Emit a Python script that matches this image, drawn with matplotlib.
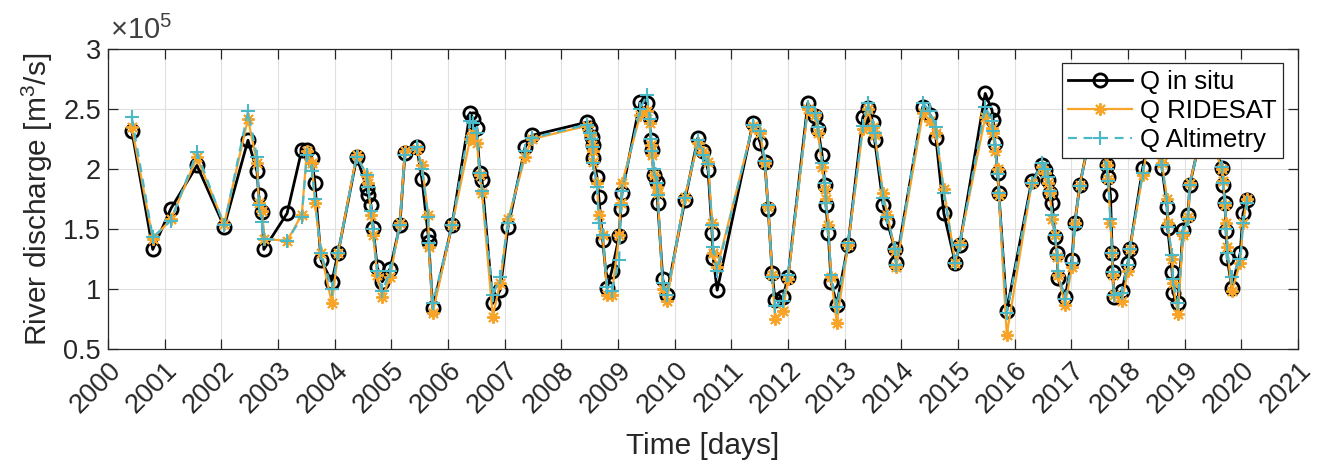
import matplotlib
matplotlib.use("Agg")
import matplotlib.pyplot as plt
from matplotlib.ticker import FuncFormatter, MultipleLocator

plt.rcParams['font.family'] = ['Liberation Sans', 'DejaVu Sans']
plt.rcParams['mathtext.fontset'] = 'custom'
plt.rcParams['mathtext.rm'] = 'Liberation Sans'

# ---------------- data (discharge in units of 1e5 m^3/s) ----------------
t = [2000.42, 2000.79, 2001.11, 2001.57, 2002.05, 2002.47, 2002.63, 2002.66, 2002.72, 2002.75,
     2003.16, 2003.42, 2003.51, 2003.60, 2003.65, 2003.76, 2003.95, 2004.06, 2004.39, 2004.57,
     2004.59, 2004.64, 2004.68, 2004.75, 2004.84, 2004.98, 2005.15, 2005.24, 2005.45, 2005.54,
     2005.65, 2005.66, 2005.73, 2006.07, 2006.39, 2006.44, 2006.51, 2006.56, 2006.60, 2006.79,
     2006.92, 2007.06, 2007.36, 2007.48, 2008.45, 2008.51, 2008.54, 2008.55, 2008.56, 2008.63,
     2008.66, 2008.73, 2008.81, 2008.89, 2009.02, 2009.05, 2009.07, 2009.39, 2009.51, 2009.56,
     2009.58, 2009.60, 2009.63, 2009.69, 2009.70, 2009.79, 2009.86, 2010.18, 2010.41, 2010.50,
     2010.59, 2010.66, 2010.68, 2010.75, 2011.38, 2011.51, 2011.59, 2011.65, 2011.72, 2011.77,
     2011.91, 2012.00, 2012.35, 2012.48, 2012.53, 2012.60, 2012.65, 2012.67, 2012.71, 2012.76,
     2012.86, 2013.06, 2013.32, 2013.41, 2013.50, 2013.53, 2013.68, 2013.75, 2013.89, 2013.91,
     2014.38, 2014.51, 2014.61, 2014.75, 2014.95, 2015.03, 2015.48, 2015.60, 2015.62, 2015.65,
     2015.70, 2015.72, 2015.86, 2016.30, 2016.48, 2016.53, 2016.59, 2016.62, 2016.66, 2016.71,
     2016.75, 2016.76, 2016.89, 2017.01, 2017.06, 2017.15, 2017.40, 2017.63, 2017.65, 2017.69,
     2017.72, 2017.73, 2017.75, 2017.89, 2018.00, 2018.03, 2018.26, 2018.42, 2018.60, 2018.69,
     2018.70, 2018.78, 2018.79, 2018.88, 2018.97, 2019.06, 2019.09, 2019.35, 2019.66, 2019.68,
     2019.71, 2019.73, 2019.75, 2019.83, 2019.98, 2020.03, 2020.10]

q_insitu = [2.32, 1.33, 1.67, 2.03, 1.52, 2.24, 1.98, 1.78, 1.64, 1.33,
            1.63, 2.16, 2.16, 2.09, 1.88, 1.24, 1.06, 1.30, 2.10, 1.84,
            1.78, 1.70, 1.51, 1.18, 1.06, 1.17, 1.53, 2.13, 2.18, 1.92,
            1.45, 1.39, 0.84, 1.53, 2.47, 2.42, 2.34, 1.97, 1.91, 0.88,
            0.99, 1.52, 2.18, 2.28, 2.39, 2.34, 2.27, 2.20, 2.09, 1.93,
            1.77, 1.41, 1.01, 1.15, 1.44, 1.67, 1.80, 2.56, 2.55, 2.43,
            2.24, 2.16, 1.95, 1.89, 1.72, 1.08, 0.95, 1.74, 2.26, 2.15,
            1.99, 1.47, 1.26, 0.99, 2.38, 2.22, 2.06, 1.67, 1.13, 0.91,
            0.93, 1.10, 2.55, 2.44, 2.33, 2.12, 1.87, 1.70, 1.47, 1.06,
            0.87, 1.37, 2.43, 2.51, 2.39, 2.24, 1.70, 1.56, 1.33, 1.22,
            2.52, 2.45, 2.26, 1.63, 1.22, 1.37, 2.63, 2.49, 2.41, 2.22,
            1.97, 1.80, 0.82, 1.90, 2.03, 1.99, 1.91, 1.80, 1.72, 1.43,
            1.30, 1.09, 0.93, 1.24, 1.55, 1.87, 2.45, 2.03, 1.93, 1.78,
            1.30, 1.14, 0.93, 0.98, 1.22, 1.33, 2.01, 2.40, 2.01, 1.68,
            1.51, 1.14, 0.97, 0.88, 1.49, 1.62, 1.87, 2.42, 2.01, 1.87,
            1.72, 1.48, 1.26, 1.01, 1.30, 1.63, 1.74]

q_ridesat = [2.35, 1.42, 1.58, 2.10, 1.54, 2.42, 2.05, 1.72, 1.65, 1.42,
             1.40, 1.62, 2.15, 2.05, 1.72, 1.30, 0.88, 1.30, 2.12, 1.94,
             1.88, 1.62, 1.45, 1.12, 0.93, 1.10, 1.55, 2.15, 2.17, 2.03,
             1.62, 1.35, 0.80, 1.53, 2.25, 2.30, 2.22, 1.95, 1.80, 0.77,
             1.05, 1.58, 2.10, 2.25, 2.36, 2.28, 2.20, 2.15, 2.06, 1.88,
             1.62, 1.45, 0.95, 0.95, 1.45, 1.72, 1.88, 2.45, 2.48, 2.38,
             2.20, 2.12, 1.95, 1.85, 1.80, 1.00, 0.90, 1.77, 2.22, 2.14,
             2.06, 1.55, 1.30, 1.18, 2.36, 2.30, 2.05, 1.68, 1.12, 0.75,
             0.82, 1.08, 2.50, 2.45, 2.30, 2.02, 1.83, 1.75, 1.53, 1.10,
             0.72, 1.37, 2.33, 2.50, 2.35, 2.28, 1.80, 1.62, 1.32, 1.18,
             2.47, 2.40, 2.30, 1.83, 1.22, 1.38, 2.43, 2.34, 2.30, 2.15,
             2.00, 1.78, 0.62, 1.88, 2.02, 1.97, 1.88, 1.80, 1.58, 1.45,
             1.27, 1.12, 0.87, 1.18, 1.55, 1.87, 2.45, 2.03, 1.92, 1.55,
             1.30, 1.12, 0.95, 0.90, 1.15, 1.33, 1.95, 2.40, 2.05, 1.75,
             1.55, 1.25, 1.05, 0.79, 1.45, 1.60, 1.88, 2.40, 2.00, 1.90,
             1.70, 1.55, 1.35, 0.98, 1.22, 1.55, 1.75]

q_altimetry = [2.43, 1.43, 1.57, 2.14, 1.53, 2.48, 2.10, 1.70, 1.56, 1.42,
               1.40, 1.60, 2.12, 1.98, 1.75, 1.30, 1.00, 1.30, 2.10, 1.95,
               1.85, 1.65, 1.50, 1.15, 0.98, 1.15, 1.53, 2.12, 2.18, 2.00,
               1.60, 1.38, 0.88, 1.53, 2.40, 2.38, 2.30, 1.97, 1.82, 0.95,
               1.10, 1.55, 2.15, 2.26, 2.37, 2.30, 2.25, 2.18, 2.05, 1.85,
               1.55, 1.45, 1.02, 0.98, 1.24, 1.70, 1.82, 2.50, 2.62, 2.42,
               2.25, 2.15, 2.00, 1.88, 1.78, 1.05, 0.95, 1.76, 2.24, 2.12,
               2.04, 1.53, 1.35, 1.15, 2.37, 2.32, 2.07, 1.70, 1.10, 0.86,
               0.90, 1.12, 2.52, 2.47, 2.35, 2.05, 1.88, 1.72, 1.50, 1.12,
               0.85, 1.38, 2.36, 2.55, 2.36, 2.30, 1.76, 1.60, 1.33, 1.20,
               2.55, 2.48, 2.35, 1.80, 1.22, 1.37, 2.52, 2.40, 2.32, 2.20,
               1.96, 1.80, 0.80, 1.88, 2.05, 2.00, 1.93, 1.82, 1.62, 1.45,
               1.28, 1.15, 0.92, 1.22, 1.52, 1.86, 2.45, 2.00, 1.90, 1.58,
               1.30, 1.14, 0.95, 0.97, 1.20, 1.33, 1.97, 2.40, 2.03, 1.72,
               1.52, 1.28, 1.08, 0.88, 1.47, 1.58, 1.87, 2.40, 2.02, 1.88,
               1.72, 1.50, 1.30, 1.10, 1.25, 1.55, 1.72]

year_ticks = list(range(2000, 2022))

# ---------------- figure ----------------
fig = plt.figure(figsize=(13.17, 4.65), dpi=100)
ax = fig.add_axes([0.082, 0.2495, 0.9036, 0.645])

orange = '#f7a428'
cyan = '#4bb8c8'
txt = '#262626'

ax.plot(t, q_insitu, color='black', lw=2.0, marker='o', ms=9.5, mfc='none',
        mec='black', mew=2.0, label='Q in situ', zorder=3)
ax.plot(t, q_ridesat, color=orange, lw=1.6, marker=(8, 2, 0), ms=9, mec=orange,
        mew=1.4, label='Q RIDESAT', zorder=4)
ax.plot(t, q_altimetry, color=cyan, lw=1.6, ls=(0, (4, 3)), marker='+', ms=10,
        mec=cyan, mew=1.5, label='Q Altimetry', zorder=5)

ax.set_xlim(2000, 2021)
ax.set_ylim(0.5, 3.0)
ax.set_xticks(year_ticks)
ax.set_xticklabels([str(y) for y in year_ticks], rotation=45, ha='right',
                   rotation_mode='anchor')
ax.yaxis.set_major_locator(MultipleLocator(0.5))
ax.yaxis.set_major_formatter(FuncFormatter(lambda v, p: '%g' % v))

ax.grid(True, color='#e0e0e0', lw=0.8)
ax.set_axisbelow(True)
for s in ax.spines.values():
    s.set_color(txt)
    s.set_linewidth(0.9)
ax.tick_params(direction='in', length=7, width=0.9, colors=txt,
               labelsize=19.5, top=True, right=True, pad=5)
ax.tick_params(axis='x', pad=6)

ax.set_xlabel('Time [days]', fontsize=21.5, color=txt, labelpad=10)
ax.set_ylabel(r'River discharge [m$^\mathregular{3}$/s]', fontsize=21.5,
              color=txt, labelpad=6)
ax.text(0.002, 1.015, r'$\times\mathregular{10^5}$', transform=ax.transAxes,
        fontsize=21, color='#404040', ha='left', va='bottom')

leg = ax.legend(loc='upper right', bbox_to_anchor=(0.9875, 0.953), fontsize=18.5,
                frameon=True, fancybox=False, edgecolor=txt, framealpha=1,
                handlelength=2.5, handletextpad=0.3, borderpad=0.25,
                labelspacing=0.2, borderaxespad=0.0)
leg.get_frame().set_linewidth(0.9)
leg.set_zorder(10)

fig.savefig('out.png', dpi=100)
